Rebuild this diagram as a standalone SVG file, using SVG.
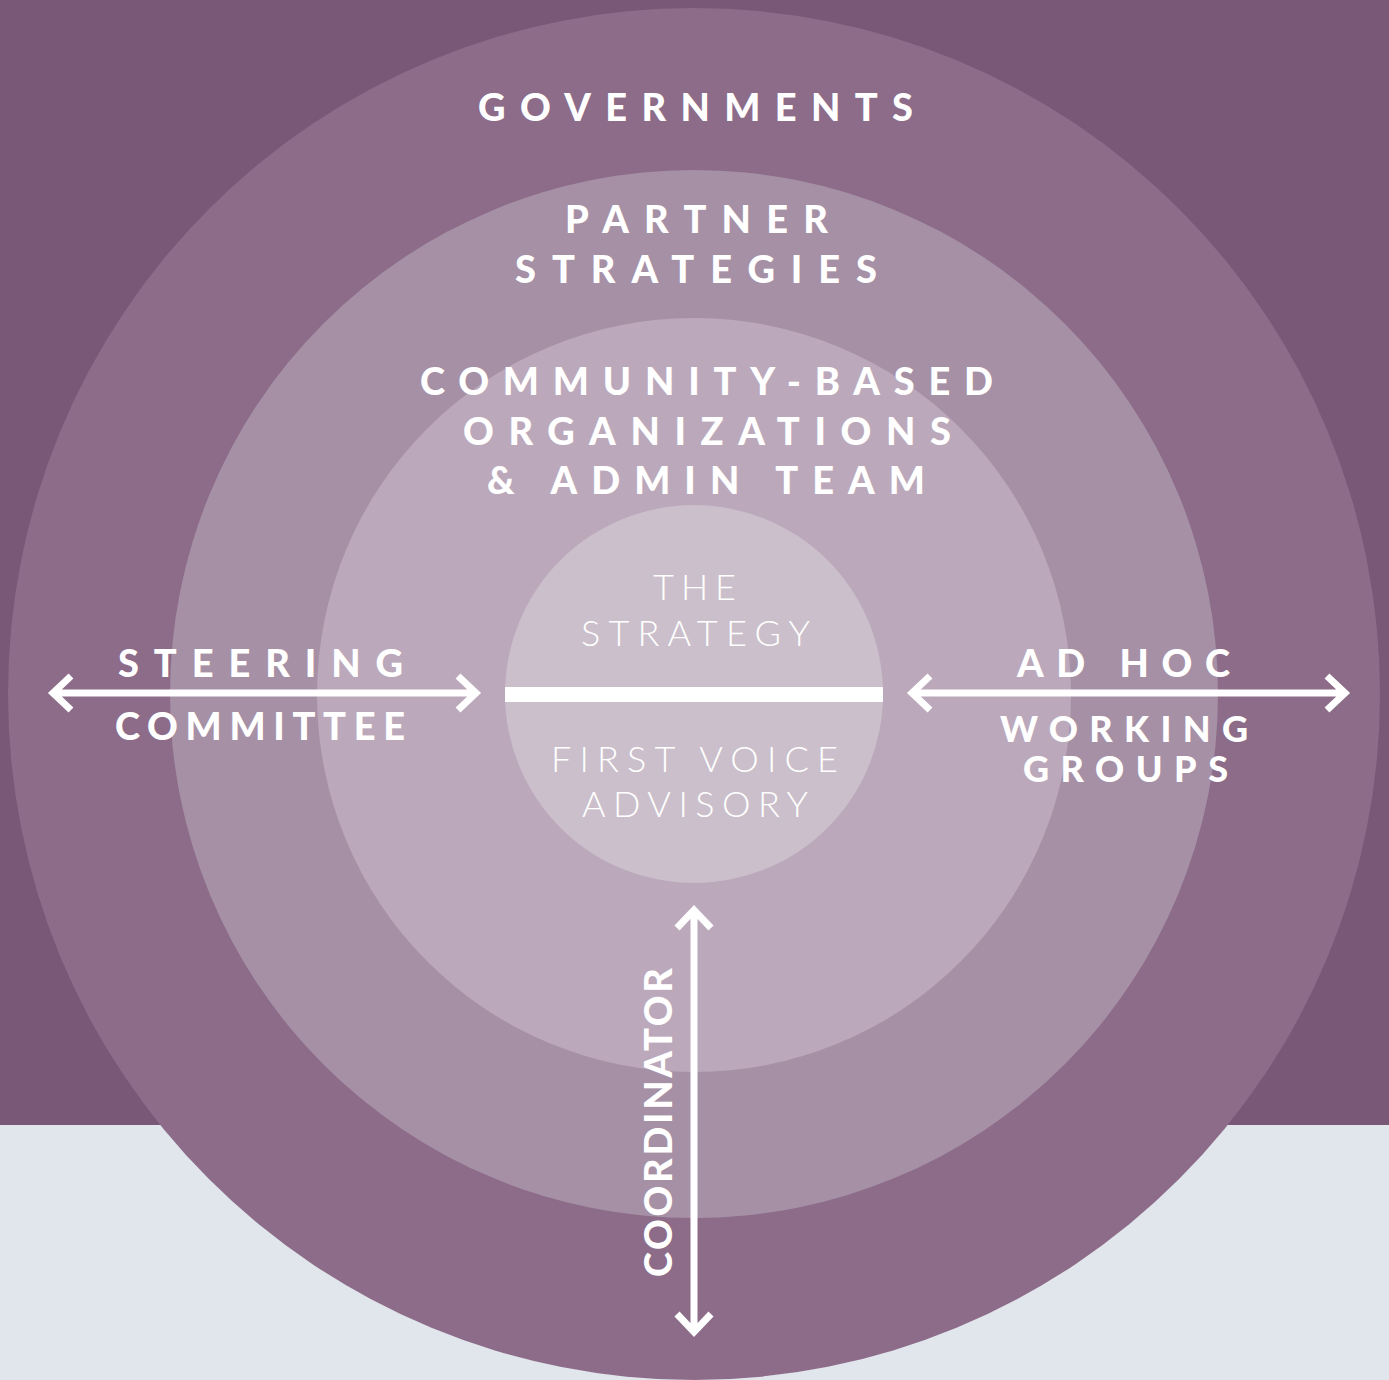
<svg xmlns="http://www.w3.org/2000/svg" width="1389" height="1380" viewBox="0 0 1389 1380">
  <defs>
    <style>
      .head { font-family: Lato, "Source Sans Pro", "Liberation Sans", sans-serif; font-weight: 900; font-size: 38px; fill: #ffffff; }
      .tight { font-size: 36px; }
      .core { font-family: Lato, "Open Sans", "Liberation Sans", sans-serif; font-weight: 300; font-size: 36px; fill: #ffffff; }
      .arrow { fill: none; stroke: #ffffff; stroke-width: 7; stroke-linecap: butt; stroke-linejoin: miter; }
    </style>
  </defs>

  <!-- background bands -->
  <rect x="0" y="0" width="1389" height="1125" fill="#795776"/>
  <rect x="0" y="1125" width="1389" height="255" fill="#e1e5ec"/>

  <!-- concentric rings -->
  <g id="governments">
    <circle cx="694" cy="694" r="686" fill="#8c6c89"/>
    <text class="head" x="478" y="121" textLength="435" lengthAdjust="spacing">GOVERNMENTS</text>
  </g>
  <g id="partner-strategies">
    <circle cx="694" cy="694" r="524" fill="#a690a6"/>
    <text class="head" x="565" y="233" textLength="263" lengthAdjust="spacing">PARTNER</text>
    <text class="head" x="515" y="283" textLength="362" lengthAdjust="spacing">STRATEGIES</text>
  </g>
  <g id="community-organizations">
    <circle cx="694" cy="695" r="377" fill="#bba9bb"/>
    <text class="head" x="420" y="395" textLength="573" lengthAdjust="spacing">COMMUNITY-BASED</text>
    <text class="head" x="463" y="445" textLength="488" lengthAdjust="spacing">ORGANIZATIONS</text>
    <text class="head" x="487" y="494" textLength="438" lengthAdjust="spacing">&amp; ADMIN TEAM</text>
  </g>
  <g id="the-strategy">
    <circle cx="694" cy="694" r="189" fill="#cbbfcb"/>
    <rect x="505" y="687" width="378" height="15" fill="#ffffff"/>
    <text class="core" x="653" y="600" textLength="83" lengthAdjust="spacing">THE</text>
    <text class="core" x="581" y="646" textLength="229" lengthAdjust="spacing">STRATEGY</text>
    <text class="core" x="551" y="772" textLength="287" lengthAdjust="spacing">FIRST VOICE</text>
    <text class="core" x="582" y="817" textLength="226" lengthAdjust="spacing">ADVISORY</text>
  </g>

  <!-- side labels -->
  <g id="steering-committee">
    <text class="head" x="118" y="677" textLength="285" lengthAdjust="spacing">STEERING</text>
    <text class="head" x="115" y="740" textLength="290" lengthAdjust="spacing">COMMITTEE</text>
  </g>
  <g id="ad-hoc-working-groups">
    <text class="head" x="1017" y="677" textLength="213" lengthAdjust="spacing">AD HOC</text>
    <text class="head tight" x="1000" y="742" textLength="248" lengthAdjust="spacing">WORKING</text>
    <text class="head tight" x="1023" y="782" textLength="205" lengthAdjust="spacing">GROUPS</text>
  </g>
  <g id="coordinator">
    <text class="head" transform="translate(672 1277) rotate(-90)" x="0" y="0" textLength="309" lengthAdjust="spacing">COORDINATOR</text>
  </g>

  <!-- double-headed connectors -->
  <g id="connectors">
    <path class="arrow" d="M52 693 H477 M71 676 L53 693 L71 710 M458 676 L476 693 L458 710"/>
    <path class="arrow" d="M911 693 H1346 M930 676 L912 693 L930 710 M1327 676 L1345 693 L1327 710"/>
    <path class="arrow" d="M694 909 V1333 M677 928 L694 910 L711 928 M677 1314 L694 1332 L711 1314"/>
  </g>
</svg>
